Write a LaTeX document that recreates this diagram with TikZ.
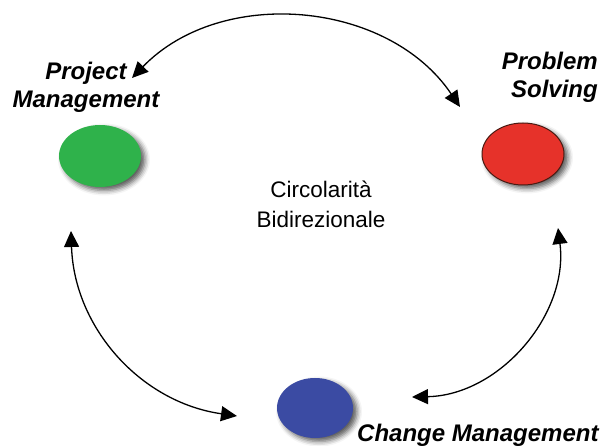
\documentclass[tikz,border=0pt]{standalone}
\usepackage{fontspec}
\setmainfont{Liberation Sans}
\usetikzlibrary{calc, arrows.meta, shapes.geometric, shadows.blur}
\definecolor{pmgreen}{HTML}{2FB24B}
\definecolor{psred}{HTML}{E6322A}
\definecolor{psrim}{HTML}{4A1A12}
\definecolor{cmblue}{HTML}{3B4BA3}

\begin{document}
\begin{tikzpicture}[x=1pt, y=1pt,
    dot/.style={ellipse, minimum width=82pt, minimum height=62pt, inner sep=0pt,
        blur shadow={shadow xshift=4pt, shadow yshift=-3.5pt, shadow blur radius=5pt, shadow opacity=65}},
    pole/.style={font=\fontsize{24}{28}\selectfont\bfseries\itshape, inner sep=0pt},
    link/.style={line width=1.3pt, {Triangle[length=16pt,width=15pt]}-{Triangle[length=16pt,width=15pt]}}]
    \useasboundingbox (0,0) rectangle (606,-446);

    % The three poles
    \node [dot, fill=pmgreen] (pmdot) at (100,-156) {};
    \node [dot, fill=psred, draw=psrim, line width=1pt] (psdot) at (523,-154) {};
    \node [dot, fill=cmblue, minimum width=76pt, minimum height=60pt] (cmdot) at (315,-408) {};

    % Labels
    \node [pole, align=center] (pmlabel) at (86,-87) {Project\\Management};
    \node [pole, align=right, anchor=east] (pslabel) at (598,-77) {Problem\\Solving};
    \node [pole, anchor=base west] (cmlabel) at (357,-442) {Change Management};
    \node [font=\fontsize{22.5}{30}\selectfont, align=center, inner sep=0pt] (centre) at (321,-204)
        {Circolarità\\Bidirezionale};

    % Arrow ends
    \coordinate (pmtip) at ($(pmdot)+(32,78)$);
    \coordinate (pmlow) at ($(pmdot)+(-29,-75)$);
    \coordinate (pstip) at ($(psdot)+(-63,47)$);
    \coordinate (pslow) at ($(psdot)+(35,-74)$);
    \coordinate (cmleft) at ($(cmdot)+(-78,-8)$);
    \coordinate (cmright) at ($(cmdot)+(97,11)$);

    % Bidirectional arcs
    \draw [link] (pmtip) to[bend left=51] (pstip);
    \draw [link] (pmlow) to[bend right=40] (cmleft);
    \draw [link] (pslow) to[bend left=48] (cmright);
\end{tikzpicture}
\end{document}
